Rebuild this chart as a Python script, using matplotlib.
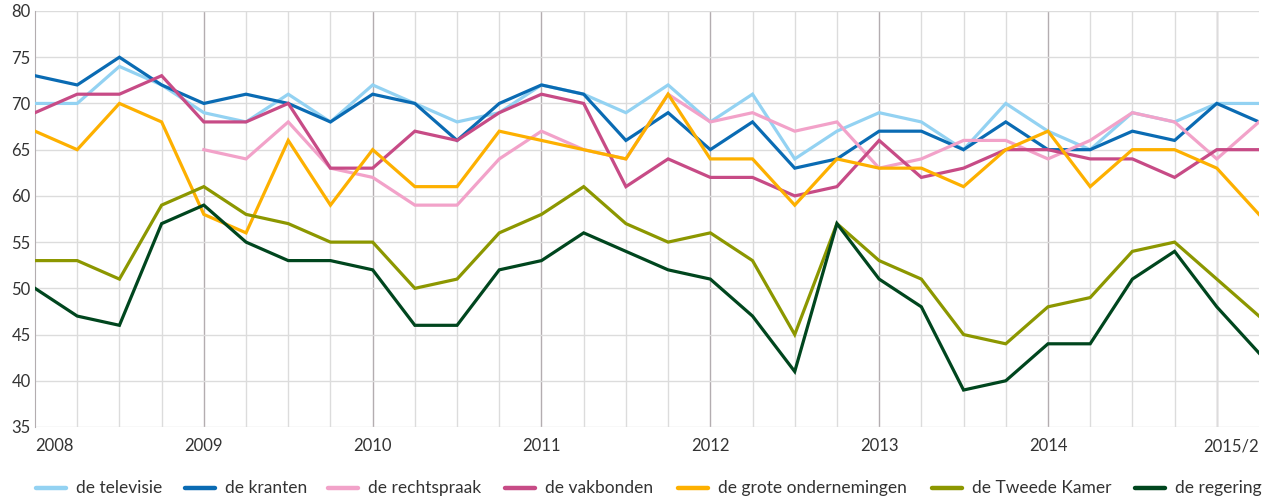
import matplotlib
matplotlib.use("Agg")
import matplotlib.pyplot as plt
from matplotlib.lines import Line2D
import numpy as np

# quarterly measurements, 2008 Q1 .. 2015 Q2
quarters = [f"{y}/{q}" for y in range(2008, 2016) for q in range(1, 5)][:30]

televisie = [70, 70, 74, 72, 69, 68, 71, 68, 72, 70, 68, 69, 72, 71, 69,
             72, 68, 71, 64, 67, 69, 68, 65, 70, 67, 65, 69, 68, 70, 70]
kranten = [73, 72, 75, 72, 70, 71, 70, 68, 71, 70, 66, 70, 72, 71, 66,
           69, 65, 68, 63, 64, 67, 67, 65, 68, 65, 65, 67, 66, 70, 68]
rechtspraak = [None, None, None, None, 65, 64, 68, 63, 62, 59, 59, 64, 67, 65, 64,
               71, 68, 69, 67, 68, 63, 64, 66, 66, 64, 66, 69, 68, 64, 68]
vakbonden = [69, 71, 71, 73, 68, 68, 70, 63, 63, 67, 66, 69, 71, 70, 61,
             64, 62, 62, 60, 61, 66, 62, 63, 65, 65, 64, 64, 62, 65, 65]
ondernemingen = [67, 65, 70, 68, 58, 56, 66, 59, 65, 61, 61, 67, 66, 65, 64,
                 71, 64, 64, 59, 64, 63, 63, 61, 65, 67, 61, 65, 65, 63, 58]
tweede_kamer = [53, 53, 51, 59, 61, 58, 57, 55, 55, 50, 51, 56, 58, 61, 57,
                55, 56, 53, 45, 57, 53, 51, 45, 44, 48, 49, 54, 55, 51, 47]
regering = [50, 47, 46, 57, 59, 55, 53, 53, 52, 46, 46, 52, 53, 56, 54,
            52, 51, 47, 41, 57, 51, 48, 39, 40, 44, 44, 51, 54, 48, 43]

series = [
    ("de televisie", televisie, "#93D2F2"),
    ("de kranten", kranten, "#0A6BB3"),
    ("de rechtspraak", rechtspraak, "#F2A2C9"),
    ("de vakbonden", vakbonden, "#C74B86"),
    ("de grote ondernemingen", ondernemingen, "#FDB000"),
    ("de Tweede Kamer", tweede_kamer, "#8C9700"),
    ("de regering", regering, "#00461E"),
]

year_ticks = [0, 4, 8, 12, 16, 20, 24, 29]
year_labels = ["2008", "2009", "2010", "2011", "2012", "2013", "2014", "2015/2"]

plt.rcParams["font.family"] = ["Lato", "DejaVu Sans"]
W, H = 1272, 500

fig = plt.figure(figsize=(W / 100, H / 100), dpi=100)
ax = fig.add_axes([35 / W, 1 - 427 / H, 1224 / W, 416 / H])

x = np.arange(len(quarters))
for name, vals, color in series:
    y = np.array([np.nan if v is None else v for v in vals], dtype=float)
    ax.plot(x, y, color=color, lw=2.3, label=name, solid_joinstyle="miter", zorder=3)

ax.set_xlim(0, len(quarters) - 1)
ax.set_ylim(35, 80)
ax.set_yticks(range(35, 81, 5))
ax.set_xticks(x, minor=True)
ax.set_xticks(year_ticks)
ax.set_xticklabels(year_labels)
ax.get_xticklabels()[0].set_ha("left")
ax.get_xticklabels()[-1].set_ha("right")

ax.grid(which="minor", axis="x", color="#DCDCDC", lw=1.0, zorder=0)
ax.grid(which="major", axis="y", color="#DCDCDC", lw=1.0, zorder=0)
for xv in year_ticks[1:-1] + [28]:
    ax.axvline(xv, color="#B3ADB0", lw=1.0, zorder=1)

for s in ["top", "right", "bottom"]:
    ax.spines[s].set_visible(False)
ax.spines["left"].set_color("#B3ADB0")
ax.tick_params(which="both", length=0, labelsize=12, colors="#333333")
ax.tick_params(axis="x", pad=8)
ax.tick_params(axis="y", pad=3)

# legend row laid out by hand to match the reference spacing
legend_x = [36, 185, 328, 505, 678, 932, 1135]
ly = 1 - 488 / H
for (name, vals, color), px in zip(series, legend_x):
    fig.add_artist(Line2D([px / W, (px + 30) / W], [ly, ly], color=color, lw=3.2,
                          solid_capstyle="round", transform=fig.transFigure))
    fig.text((px + 40) / W, ly, name, fontsize=12.5, color="#333333",
             va="center", ha="left")

fig.savefig("out.png", dpi=100)
